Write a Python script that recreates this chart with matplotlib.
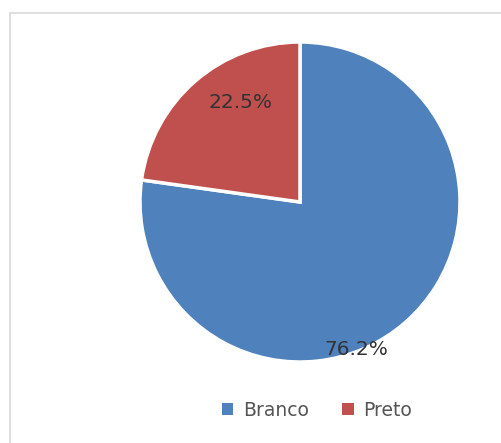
import matplotlib
matplotlib.use("Agg")
import matplotlib.pyplot as plt
from matplotlib.patches import Rectangle, Patch

categories = ["Branco", "Preto"]
values = [76.2, 22.5]
labels = ["76.2%", "22.5%"]
colors = ["#4F81BD", "#C0504D"]

W, H = 501, 443
fig = plt.figure(figsize=(W / 100, H / 100), dpi=100)

# chart frame
fig.patches.append(Rectangle((10 / W, -0.1), 1.2, (H - 13) / H + 0.1,
                             transform=fig.transFigure, fill=False,
                             edgecolor="#d9d9d9", linewidth=1.2))

cx, cy, r = 300, 202, 160
ax = fig.add_axes([(cx - r) / W, (H - cy - r) / H, 2 * r / W, 2 * r / H])
wedges, _ = ax.pie(values, colors=colors, startangle=90, counterclock=False,
                   wedgeprops=dict(edgecolor="white", linewidth=2.5))
ax.set_xlim(-1, 1)
ax.set_ylim(-1, 1)
ax.set_aspect("equal")
ax.axis("off")

label_pos = [(0.35, -0.92), (-0.37, 0.62)]
for (x, y), t in zip(label_pos, labels):
    ax.text(x, y, t, ha="center", va="center", fontsize=14.5, color="#333333",
            family="DejaVu Sans")

handles = [Patch(facecolor=c, edgecolor="none") for c in colors]
fig.legend(handles, categories, loc="center", bbox_to_anchor=(317 / W, 1 - 410 / H),
           ncol=2, frameon=False, fontsize=13.5, handlelength=0.6, handleheight=0.6,
           handletextpad=0.5, columnspacing=1.8, labelcolor="#555555")

fig.savefig("out.png", dpi=100)
